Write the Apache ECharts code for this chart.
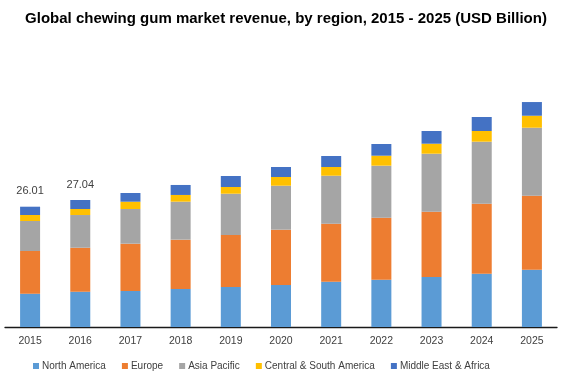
<!DOCTYPE html>
<html>
<head>
<meta charset="utf-8">
<script src="https://cdn.jsdelivr.net/npm/echarts@6/dist/echarts.min.js"></script>
<style>html,body{margin:0;padding:0;background:#fff}#c{width:572px;height:382px}</style>
</head>
<body>
<div id="c"></div>
<script>
var years = ['2015','2016','2017','2018','2019','2020','2021','2022','2023','2024','2025'];
var northAmerica = [7.20, 7.63, 7.78, 8.22, 8.65, 9.08, 9.79, 10.23, 10.81, 11.52, 12.39];
var europe       = [9.23, 9.51, 10.23, 10.66, 11.24, 11.96, 12.54, 13.41, 14.12, 15.14, 16.00];
var asiaPacific  = [6.49, 7.07, 7.50, 8.22, 8.93, 9.51, 10.38, 11.24, 12.54, 13.41, 14.70];
var centralSouth = [1.30, 1.30, 1.58, 1.45, 1.45, 1.88, 1.88, 2.16, 2.16, 2.31, 2.59];
var middleEast   = [1.79, 1.95, 1.88, 2.16, 2.38, 2.16, 2.38, 2.53, 2.75, 3.03, 2.96];
var totalLabels  = ['26.01', '27.04', '', '', '', '', '', '', '', '', ''];

var seriesNames = ['North America', 'Europe', 'Asia Pacific', 'Central & South America', 'Middle East & Africa'];
var seriesData = [northAmerica, europe, asiaPacific, centralSouth, middleEast];
var colors = ['#5B9BD5', '#ED7D31', '#A5A5A5', '#FFC000', '#4472C4'];
var font = 'Liberation Sans, Arial, sans-serif';

var chart = echarts.init(document.getElementById('c'));
var series = seriesNames.map(function (n, i) {
  var s = {
    name: n, type: 'bar', stack: 'total', data: seriesData[i],
    barWidth: 20, itemStyle: { color: colors[i] }
  };
  if (i === seriesNames.length - 1) {
    s.label = {
      show: true, position: 'top', distance: 10,
      color: '#404040', fontSize: 11, fontFamily: font,
      formatter: function (p) { return totalLabels[p.dataIndex]; }
    };
  }
  return s;
});

chart.setOption({
  animation: false,
  color: colors,
  title: {
    text: 'Global chewing gum market revenue, by region, 2015 - 2025 (USD Billion)',
    left: 'center', top: 6,
    textStyle: { fontSize: 15, fontWeight: 'bold', color: '#000', fontFamily: font }
  },
  legend: {
    bottom: 6, left: 28,
    itemWidth: 6, itemHeight: 6, itemGap: 16,
    icon: 'rect',
    textStyle: { fontSize: 10, color: '#404040', fontFamily: font, padding: [0, 0, 0, -2] },
    data: seriesNames
  },
  grid: { left: 5, right: 15, top: 68, bottom: 55, containLabel: false },
  xAxis: {
    type: 'category', data: years,
    axisLine: { lineStyle: { color: '#1a1a1a', width: 1.3 } },
    axisTick: { show: false },
    axisLabel: { color: '#404040', fontSize: 10.5, fontFamily: font, margin: 9 }
  },
  yAxis: {
    type: 'value', min: 0, max: 56,
    show: false,
    splitLine: { show: false }
  },
  series: series
});
</script>
</body>
</html>
